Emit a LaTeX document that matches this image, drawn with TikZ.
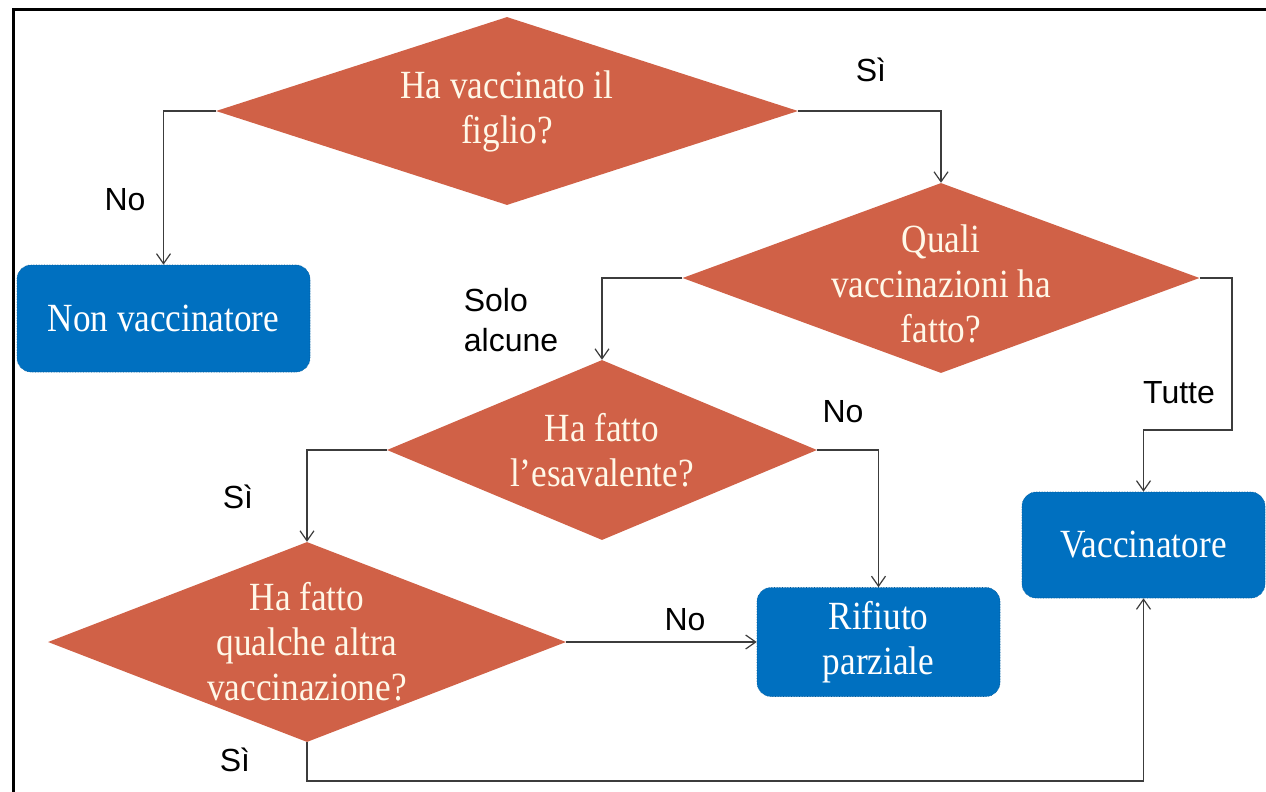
\documentclass[tikz,border=0pt]{standalone}
\usepackage{fontspec}
\setmainfont{Liberation Serif}
\newfontfamily\labfont{Liberation Sans}
\newfontfamily\shapefont[FakeStretch=0.88]{Liberation Serif}
\usetikzlibrary{shapes.geometric,arrows.meta}
\definecolor{dcol}{RGB}{208,97,71}
\definecolor{bcol}{RGB}{0,112,192}
\definecolor{dtxt}{RGB}{255,248,232}
\definecolor{lcol}{RGB}{60,60,60}
\tikzset{
  dia/.style={diamond,fill=dcol,inner sep=0pt,aspect=2},
  dtext/.style={text=dtxt,align=center,font=\shapefont\fontsize{40}{45}\selectfont,inner sep=0pt},
  box/.style={rounded corners=14pt,fill=bcol,draw=bcol!80!black,densely dotted,line width=0.6pt,
    text=white,align=center,font=\shapefont\fontsize{40}{45}\selectfont},
  lab/.style={font=\labfont\fontsize{32}{40}\selectfont,inner sep=0pt,align=left},
  conn/.style={draw=lcol,line width=1.3pt},
  arr/.style={conn,-{Straight Barb[length=10pt,width=14pt,line width=1.2pt]}}
}
\begin{document}
\begin{tikzpicture}[x=1pt,y=-1pt]
\useasboundingbox (0,0) rectangle (1266,792);
% frame
\draw[line width=3pt] (13,800) -- (13,10) -- (1270,10);
% decisions
\node[dia,minimum width=582pt,minimum height=188pt] (d1) at (507,111) {};
\node[dtext] (d1t) at (d1.center) {Ha vaccinato il\\figlio?};
\node[dia,minimum width=517pt,minimum height=190pt] (d2) at (941,278) {};
\node[dtext] (d2t) at ([yshift=-6pt]d2.center) {Quali\\vaccinazioni ha\\fatto?};
\node[dia,minimum width=430pt,minimum height=180pt] (d3) at (602,450) {};
\node[dtext] (d3t) at (d3.center) {Ha fatto\\l’esavalente?};
\node[dia,minimum width=518pt,minimum height=200pt] (d4) at (307,642) {};
\node[dtext] (d4t) at (d4.center) {Ha fatto\\qualche altra\\vaccinazione?};
% terminals
\node[box,minimum width=293pt,minimum height=107pt] (nv) at (163.5,318.5) {Non vaccinatore};
\node[box,minimum width=243pt,minimum height=106pt] (vac) at (1143.5,545) {Vaccinatore};
\node[box,minimum width=243pt,minimum height=109pt] (rp) at (878.5,642) {Rifiuto\\parziale};
% coordinates
\coordinate (t1) at (1232,430);
\coordinate (b1) at (307,781);
% connectors
\draw[arr] (d1.west) -| (nv.north);
\draw[arr] (d1.east) -| (d2.north);
\draw[arr] (d2.west) -| (d3.north);
\draw[arr] (d2.east) -| (t1) -| (vac.north);
\draw[arr] (d3.west) -| (d4.north);
\draw[arr] (d3.east) -| (rp.north);
\draw[arr] (d4.east) -- (rp.west);
\draw[arr] (d4.south) -- (b1) -| (vac.south);
% labels
\node[lab] (l1) at (125,200) {No};
\node[lab] (l2) at (871,70) {Sì};
\node[lab] (l3) at (511,320) {Solo\\alcune};
\node[lab] (l4) at (1179,393) {Tutte};
\node[lab] (l5) at (843,412) {No};
\node[lab] (l6) at (238,497) {Sì};
\node[lab] (l7) at (685,620) {No};
\node[lab] (l8) at (235,760) {Sì};
\end{tikzpicture}
\end{document}
